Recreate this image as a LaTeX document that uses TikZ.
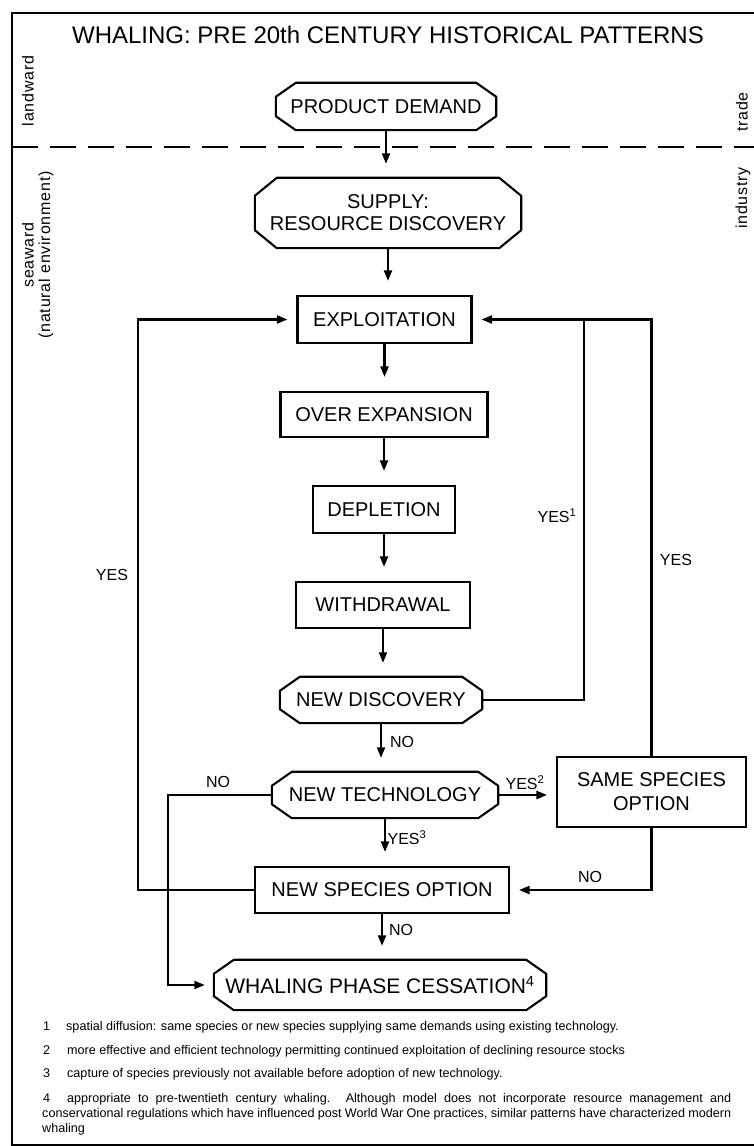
\documentclass[tikz,border=0pt]{standalone}
\usepackage{fontspec}
\setmainfont{Liberation Sans}
\newfontfamily\sidefont[LetterSpace=5]{Liberation Sans}
\usetikzlibrary{arrows.meta,calc}
\newcommand{\chamf}[3]{%
  \draw[boxline] ($(#1.north west)+(#2,0)$) -- ($(#1.north east)+(-#2,0)$)
    -- ($(#1.north east)+(0,-#3)$) -- ($(#1.south east)+(0,#3)$)
    -- ($(#1.south east)+(-#2,0)$) -- ($(#1.south west)+(#2,0)$)
    -- ($(#1.south west)+(0,#3)$) -- ($(#1.north west)+(0,-#3)$) -- cycle;}
\begin{document}
\begin{tikzpicture}[x=1pt,y=1pt,
  every node/.style={inner sep=0pt},
  boxline/.style={line width=2.1pt, line join=round},
  rbox/.style={draw, line width=2.1pt, align=center, font=\fontsize{20}{23}\selectfont},
  cbox/.style={align=center, font=\fontsize{20}{23}\selectfont},
  conn/.style={line width=2.1pt},
  arr/.style={line width=2.1pt, -{Triangle[length=10.5pt,width=8pt]}},
  varr/.style={arr, shorten >=14pt},
  harr/.style={arr, shorten >=9pt},
  lbl/.style={font=\fontsize{16}{18}\selectfont},
  side/.style={font=\sidefont\fontsize{16}{18}\selectfont, rotate=90},
  fn/.style={font=\fontsize{12.6}{15}\selectfont, anchor=base west},
]
\useasboundingbox (0,0) rectangle (754,1146);
\begin{scope}
\clip (0,0) rectangle (754,1146);
\draw[line width=2.4pt] (800,1) -- (12,1) -- (12,1133) -- (800,1133);
\draw[line width=2.2pt, dash pattern=on 26pt off 12pt] (12,999) -- (760,999);
\end{scope}

\node[font=\fontsize{24}{27}\selectfont] (title) at (388,1111) {WHALING: PRE 20th CENTURY HISTORICAL PATTERNS};

\node[side] (lw) at (28,1055) {landward};
\node[side] (sw) at (28,891) {seaward};
\node[side] (ne) at (46,891) {(natural environment)};
\node[side] (tr) at (742,1034) {trade};
\node[side] (in) at (743,948) {industry};

\node[cbox, minimum width=220pt, minimum height=47pt] (pd) at (386,1039.5) {PRODUCT DEMAND};
\chamf{pd}{20}{14}
\node[cbox, font=\fontsize{20}{22}\selectfont, minimum width=266pt, minimum height=70pt] (sup) at (388,933) {SUPPLY:\\RESOURCE DISCOVERY};
\chamf{sup}{22}{18}
\node[rbox, minimum width=174pt, minimum height=47pt] (exp) at (384.5,826.5) {EXPLOITATION};
\node[rbox, minimum width=207pt, minimum height=45pt] (ovr) at (384,731.5) {OVER EXPANSION};
\node[rbox, minimum width=142pt, minimum height=47pt] (dep) at (384,636.5) {DEPLETION};
\node[rbox, minimum width=174pt, minimum height=46pt] (wd) at (383,541) {WITHDRAWAL};
\node[cbox, minimum width=202pt, minimum height=46pt] (nd) at (381,446) {NEW DISCOVERY};
\chamf{nd}{20}{14}
\node[cbox, minimum width=226pt, minimum height=46pt] (nt) at (385,351) {NEW TECHNOLOGY};
\chamf{nt}{20}{14}
\node[rbox, font=\fontsize{20}{24}\selectfont, minimum width=189pt, minimum height=70pt] (ss) at (651.5,354) {SAME SPECIES\\OPTION};
\node[rbox, minimum width=254pt, minimum height=46pt] (ns) at (382,256) {NEW SPECIES OPTION};
\node[cbox, font=\fontsize{21}{24}\selectfont, minimum width=332pt, minimum height=50pt] (wpc) at (380,161) {WHALING PHASE CESSATION\textsuperscript{4}};
\chamf{wpc}{20}{14}

\coordinate (rj) at (584,826.5);
\coordinate (lj) at (138,826.5);
\coordinate (nj) at (168,351);

\draw[varr] (pd.south) -- (pd.south |- sup.north);
\draw[varr] (sup.south) -- (sup.south |- exp.north);
\draw[varr] (exp.south) -- (exp.south |- ovr.north);
\draw[varr] (ovr.south) -- (ovr.south |- dep.north);
\draw[varr] (dep.south) -- (dep.south |- wd.north);
\draw[varr] (wd.south) -- (wd.south |- nd.north);
\draw[varr] (nd.south) -- (nd.south |- nt.north);
\draw[varr] (nt.south) -- (nt.south |- ns.north);
\draw[varr] (ns.south) -- (ns.south |- wpc.north);

\draw[conn] (nd.east) -| (rj);
\draw[harr] (ss.north) |- (exp.east);
\draw[harr] (ns.west) -| (lj) -- (exp.west);
\draw[harr] (nt.east) -- (ss.west |- nt.east);
\draw[harr] (ss.south) |- (ns.east);
\draw[harr] (nt.west) -- (nj) |- (wpc.west);

\node[lbl] (l1) at (557,630) {YES\textsuperscript{1}};
\node[lbl] (l2) at (676,586) {YES};
\node[lbl] (l3) at (112,571) {YES};
\node[lbl] (l4) at (402,404) {NO};
\node[lbl] (l5) at (218,364) {NO};
\node[lbl] (l6) at (525,363) {YES\textsuperscript{2}};
\node[lbl] (l7) at (407,308) {YES\textsuperscript{3}};
\node[lbl] (l8) at (590,269) {NO};
\node[lbl] (l9) at (401,216) {NO};

\node[fn] (f1) at (43,115) {\makebox[23pt][l]{1}spatial diffusion: same species or new species supplying same demands using existing technology.};
\node[fn] (f2) at (43,91) {\makebox[24pt][l]{2}more effective and efficient technology permitting continued exploitation of declining resource stocks};
\node[fn] (f3) at (43,68) {\makebox[24pt][l]{3}capture of species previously not available before adoption of new technology.};
\node[fn] (f4a) at (43,43) {\makebox[24pt][l]{4}\makebox[664pt][s]{appropriate to pre-twentieth century whaling. Although model does not incorporate resource management and}};
\node[fn] (f4b) at (42,28) {\makebox[689pt][s]{conservational regulations which have influenced post World War One practices, similar patterns have characterized modern}};
\node[fn] (f4c) at (42,13) {whaling};
\end{tikzpicture}
\end{document}
